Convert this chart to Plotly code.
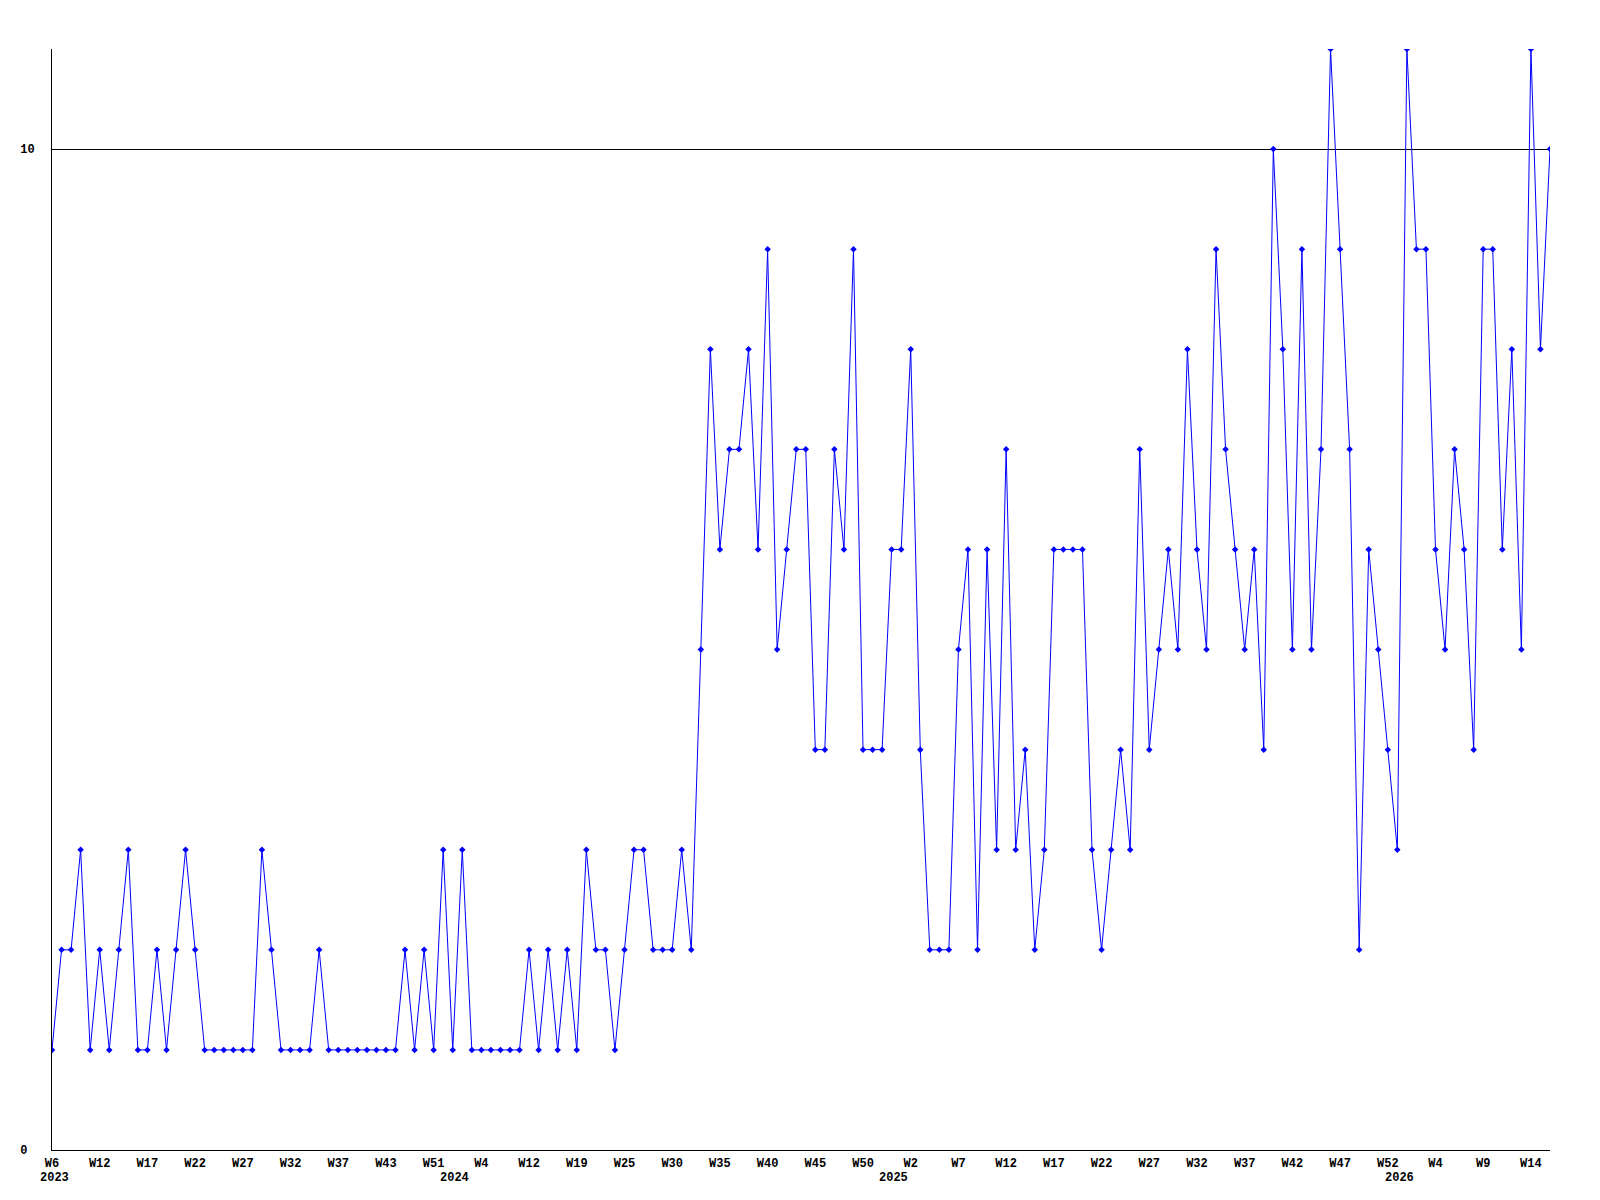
import plotly.graph_objects as go

values = [
    1, 2, 2, 3, 1, 2, 1, 2, 3, 1,
    1, 2, 1, 2, 3, 2, 1, 1, 1, 1,
    1, 1, 3, 2, 1, 1, 1, 1, 2, 1,
    1, 1, 1, 1, 1, 1, 1, 2, 1, 2,
    1, 3, 1, 3, 1, 1, 1, 1, 1, 1,
    2, 1, 2, 1, 2, 1, 3, 2, 2, 1,
    2, 3, 3, 2, 2, 2, 3, 2, 5, 8,
    6, 7, 7, 8, 6, 9, 5, 6, 7, 7,
    4, 4, 7, 6, 9, 4, 4, 4, 6, 6,
    8, 4, 2, 2, 2, 5, 6, 2, 6, 3,
    7, 3, 4, 2, 3, 6, 6, 6, 6, 3,
    2, 3, 4, 3, 7, 4, 5, 6, 5, 8,
    6, 5, 9, 7, 6, 5, 6, 4, 10, 8,
    5, 9, 5, 7, 11, 9, 7, 2, 6, 5,
    4, 3, 11, 9, 9, 6, 5, 7, 6, 4,
    9, 9, 6, 8, 5, 11, 8, 10,
]

week_labels = [
    "W6", "W12", "W17", "W22", "W27", "W32", "W37", "W43", "W51",
    "W4", "W12", "W19", "W25", "W30", "W35", "W40", "W45", "W50",
    "W2", "W7", "W12", "W17", "W22", "W27", "W32", "W37", "W42", "W47", "W52",
    "W4", "W9", "W14",
]
label_step = 5

year_labels = ["2023", "2024", "2025", "2026"]
year_index = [0, 42, 88, 141]

y_ticks = [0, 10]
y_ticktext = ["0\u00a0", "10"]

x = list(range(len(values)))
font = dict(family="Liberation Mono", size=12, color="black", weight="bold")

fig = go.Figure()
fig.add_trace(go.Scatter(
    x=x, y=values, mode="lines+markers",
    line=dict(color="#0000ff", width=1),
    marker=dict(symbol="diamond", size=5, color="#0000ff"),
    showlegend=False,
))

for lab, idx in zip(year_labels, year_index):
    fig.add_annotation(
        x=idx, y=0, xref="x", yref="paper", text=lab, showarrow=False,
        xanchor="center", yanchor="middle", yshift=-28, xshift=2, font=font,
    )

fig.update_layout(
    width=1600, height=1200,
    margin=dict(l=42, r=58, t=41, b=58),
    paper_bgcolor="white", plot_bgcolor="white",
    font=font,
)
fig.update_xaxes(
    range=[0, len(values) - 1],
    tickvals=list(range(0, len(values), label_step))[:len(week_labels)],
    ticktext=week_labels,
    showgrid=False, zeroline=False, showline=True, linecolor="black", linewidth=1,
    ticks="", tickfont=font, tickangle=0, ticklabelstandoff=2,
)
fig.update_yaxes(
    range=[0, 11],
    tickvals=y_ticks, ticktext=y_ticktext,
    showgrid=True, gridcolor="black", gridwidth=1,
    zeroline=False, showline=True, linecolor="black", linewidth=1,
    ticks="", tickfont=font, ticklabelstandoff=14,
)

fig.write_html("out.html")
